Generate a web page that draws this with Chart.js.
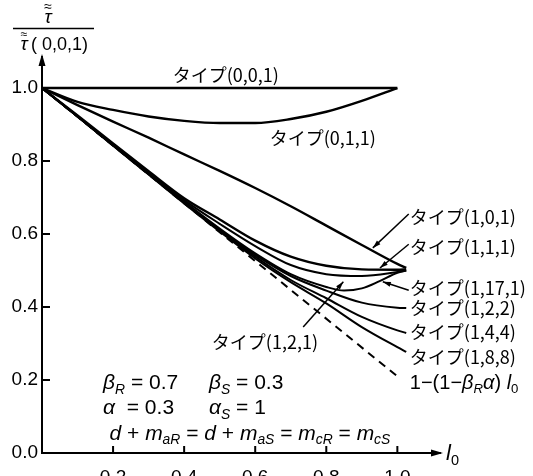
<!DOCTYPE html>
<html><head><meta charset="utf-8">
<script src="https://cdn.jsdelivr.net/npm/chart.js@4/dist/chart.umd.min.js"></script>
<style>html,body{margin:0;padding:0;background:#fff;overflow:hidden}canvas{display:block}</style>
</head><body>
<canvas id="c" width="533" height="476"></canvas>
<script>
// ---- data ----
const l0 = [0,0.1,0.2,0.3,0.4,0.5,0.6,0.7,0.8,0.9,1.0];
const l0Ext = [0,0.1,0.2,0.3,0.4,0.5,0.6,0.7,0.8,0.9,1.0,1.025];
const l0Dip = [0,0.1,0.2,0.3,0.4,0.5,0.6,0.7,0.8,0.85,0.9,0.95,1.0,1.025];
const type001 = [1,1,1,1,1,1,1,1,1,1,1];
const type011 = [1,0.962,0.94,0.922,0.91,0.904,0.904,0.915,0.935,0.965,1.0];
const type101 = [1,0.953,0.908,0.864,0.818,0.773,0.726,0.676,0.623,0.57,0.518,0.507];
const type111 = [1,0.925,0.848,0.772,0.698,0.64,0.582,0.538,0.513,0.503,0.502,0.503];
const type121 = [1,0.923,0.845,0.768,0.693,0.628,0.567,0.515,0.49,0.485,0.496,0.5];
const type1171 = [1,0.922,0.844,0.766,0.689,0.615,0.547,0.49,0.455,0.445,0.451,0.471,0.494,0.5];
const type122 = [1,0.922,0.843,0.765,0.687,0.612,0.543,0.485,0.445,0.412,0.398,0.397];
const type144 = [1,0.922,0.843,0.764,0.686,0.610,0.538,0.474,0.424,0.373,0.336,0.329];
const type188 = [1,0.922,0.842,0.763,0.684,0.607,0.533,0.468,0.41,0.345,0.29,0.277];
const limitX = [0,1.0];
const limitY = [1,0.21];
const xTicks = [0.2,0.4,0.6,0.8,1.0];
const yTicks = [0,0.2,0.4,0.6,0.8,1.0];
const seriesNames = ['タイプ(0,0,1)','タイプ(0,1,1)','タイプ(1,0,1)','タイプ(1,1,1)','タイプ(1,2,1)','タイプ(1,17,1)','タイプ(1,2,2)','タイプ(1,4,4)','タイプ(1,8,8)'];

// ---- annotation placement (data units) ----
const labelPos = [
  {t:'タイプ(0,0,1)', x:0.368, y:1.036},
  {t:'タイプ(0,1,1)', x:0.641, y:0.863},
  {t:'タイプ(1,0,1)', x:1.035, y:0.647},
  {t:'タイプ(1,1,1)', x:1.035, y:0.564},
  {t:'タイプ(1,17,1)', x:1.035, y:0.452},
  {t:'タイプ(1,2,2)', x:1.035, y:0.398},
  {t:'タイプ(1,4,4)', x:1.035, y:0.331},
  {t:'タイプ(1,8,8)', x:1.035, y:0.263},
  {t:'タイプ(1,2,1)', x:0.478, y:0.304}
];
const leaders = [
  [1.032,0.655,0.931,0.562],
  [1.032,0.572,0.951,0.507],
  [1.032,0.446,0.959,0.469],
  [0.735,0.345,0.848,0.469]
];

const NUMF = "'Liberation Sans',Arial,sans-serif";
const JPF = "'Noto Sans CJK JP',sans-serif";

function pts(xs, ys){ return ys.map((y,i)=>({x:xs[i], y})); }
function ds(xs, ys, extra){
  return Object.assign({data:pts(xs,ys), showLine:true, borderColor:'#000', borderWidth:2.4,
    pointRadius:0, fill:false, cubicInterpolationMode:'monotone'}, extra||{});
}

function drawRich(ctx, x, yMid, parts, size){
  let cx = x;
  const base = yMid + size*0.35;
  for (const [t, st] of parts){
    const it = st.indexOf('i')>=0, sub = st.indexOf('s')>=0;
    const fs = sub ? size*0.66 : size;
    ctx.font = (it?'italic ':'') + fs + 'px ' + NUMF;
    ctx.fillText(t, cx, sub ? base + size*0.22 : base);
    cx += ctx.measureText(t).width;
  }
}

const decor = {
  id:'decor',
  afterDatasetsDraw(chart){
    const {ctx, chartArea:a, scales:{x, y}} = chart;
    ctx.save();
    ctx.fillStyle = '#000'; ctx.strokeStyle = '#000';
    // inside tick marks
    ctx.lineWidth = 2;
    ctx.beginPath();
    xTicks.forEach(v=>{ const px=x.getPixelForValue(v); ctx.moveTo(px,a.bottom); ctx.lineTo(px,a.bottom-7); });
    yTicks.forEach(v=>{ if(v===0) return; const py=y.getPixelForValue(v); ctx.moveTo(a.left,py); ctx.lineTo(a.left+8,py); });
    ctx.stroke();
    // axis arrows
    ctx.beginPath(); ctx.moveTo(a.left, a.top-3); ctx.lineTo(a.left-3.5, a.top+9); ctx.lineTo(a.left+3.5, a.top+9); ctx.closePath(); ctx.fill();
    ctx.beginPath(); ctx.moveTo(a.right+3, a.bottom); ctx.lineTo(a.right-9, a.bottom-3.5); ctx.lineTo(a.right-9, a.bottom+3.5); ctx.closePath(); ctx.fill();
    // leaders
    ctx.lineWidth = 1.5;
    leaders.forEach(([x1,y1,x2,y2])=>{
      const X1=x.getPixelForValue(x1), Y1=y.getPixelForValue(y1), X2=x.getPixelForValue(x2), Y2=y.getPixelForValue(y2);
      ctx.beginPath(); ctx.moveTo(X1,Y1); ctx.lineTo(X2,Y2); ctx.stroke();
      const ang=Math.atan2(Y2-Y1,X2-X1);
      ctx.beginPath(); ctx.moveTo(X2,Y2);
      ctx.lineTo(X2-8*Math.cos(ang)+2.5*Math.sin(ang), Y2-8*Math.sin(ang)-2.5*Math.cos(ang));
      ctx.lineTo(X2-8*Math.cos(ang)-2.5*Math.sin(ang), Y2-8*Math.sin(ang)+2.5*Math.cos(ang));
      ctx.closePath(); ctx.fill();
    });
    // series labels
    ctx.textBaseline='middle'; ctx.textAlign='left';
    ctx.font = '18px ' + JPF;
    labelPos.forEach(l=>{ ctx.fillText(l.t, x.getPixelForValue(l.x), y.getPixelForValue(l.y)); });
    // limit line label
    ctx.textBaseline='alphabetic';
    drawRich(ctx, x.getPixelForValue(1.035), y.getPixelForValue(0.195),
      [['1−(1−','n'],['β','i'],['R','is'],['α','i'],[') ','n'],['l','i'],['0','s']], 20);
    // parameter block
    drawRich(ctx, x.getPixelForValue(0.172), y.getPixelForValue(0.195), [['β','i'],['R','is'],[' = 0.7','n']], 21);
    drawRich(ctx, x.getPixelForValue(0.47), y.getPixelForValue(0.195), [['β','i'],['S','is'],[' = 0.3','n']], 21);
    drawRich(ctx, x.getPixelForValue(0.172), y.getPixelForValue(0.126), [['α','i'],['  = 0.3','n']], 21);
    drawRich(ctx, x.getPixelForValue(0.47), y.getPixelForValue(0.126), [['α','i'],['S','is'],[' = 1','n']], 21);
    drawRich(ctx, x.getPixelForValue(0.19), y.getPixelForValue(0.057),
      [['d','i'],[' + ','n'],['m','i'],['aR','is'],[' = ','n'],['d','i'],[' + ','n'],['m','i'],['aS','is'],[' = ','n'],['m','i'],['cR','is'],[' = ','n'],['m','i'],['cS','is']], 21);
    // x axis title
    drawRich(ctx, a.right+6, a.bottom-1, [['l','i'],['0','s']], 22);
    // y axis title (fraction)
    const cxN = a.left+6;
    ctx.textAlign='center';
    ctx.font = '14px ' + NUMF; ctx.fillText('≈', cxN, 11);
    ctx.font = 'italic 19px ' + NUMF; ctx.fillText('τ', cxN, 23);
    ctx.lineWidth=1.5; ctx.beginPath(); ctx.moveTo(13,28.5); ctx.lineTo(94,28.5); ctx.stroke();
    ctx.font = '12px ' + NUMF; ctx.fillText('≈', 24, 38);
    ctx.font = 'italic 19px ' + NUMF; ctx.fillText('τ', 24, 50);
    ctx.textAlign='left'; ctx.font = '18px ' + NUMF; ctx.fillText('( 0,0,1)', 31, 50);
    ctx.restore();
  }
};

new Chart(document.getElementById('c'), {
  type:'scatter',
  data:{ datasets:[
    ds(l0, type001, {label:seriesNames[0], tension:0, cubicInterpolationMode:'default'}),
    ds(l0, type011, {label:seriesNames[1]}),
    ds(l0Ext, type101, {label:seriesNames[2]}),
    ds(l0Ext, type111, {label:seriesNames[3]}),
    ds(l0Ext, type121, {label:seriesNames[4], borderWidth:2}),
    ds(l0Dip, type1171, {label:seriesNames[5], borderWidth:2}),
    ds(l0Ext, type122, {label:seriesNames[6], borderWidth:2}),
    ds(l0Ext, type144, {label:seriesNames[7], borderWidth:2}),
    ds(l0Ext, type188, {label:seriesNames[8], borderWidth:2}),
    ds(limitX, limitY, {label:'1-(1-βRα)l0', borderDash:[8,6], borderWidth:2, tension:0, cubicInterpolationMode:'default'})
  ]},
  options:{
    responsive:false, animation:false, devicePixelRatio:1,
    layout:{ padding:{ top:57, right:93, left:0, bottom:0 } },
    plugins:{ legend:{display:false}, tooltip:{enabled:false}, title:{display:false} },
    scales:{
      x:{ type:'linear', min:0, max:1.12,
        afterFit(s){ s.height = 23; },
        afterBuildTicks(s){ s.ticks = xTicks.map(v=>({value:v})); },
        grid:{ display:true, drawOnChartArea:false, drawTicks:false },
        border:{ display:true, color:'#000', width:2 },
        ticks:{ padding:13, color:'#000', font:{ family:NUMF, size:19 }, callback:v=>Number(v).toFixed(1), maxRotation:0, autoSkip:false }
      },
      y:{ type:'linear', min:0, max:1.085,
        afterFit(s){ s.width = 42; },
        afterBuildTicks(s){ s.ticks = yTicks.map(v=>({value:v})); },
        grid:{ display:true, drawOnChartArea:false, drawTicks:false },
        border:{ display:true, color:'#000', width:2 },
        ticks:{ padding:4, color:'#000', font:{ family:NUMF, size:19 }, callback:v=>Number(v).toFixed(1), autoSkip:false }
      }
    }
  },
  plugins:[decor]
});
</script>
</body></html>
